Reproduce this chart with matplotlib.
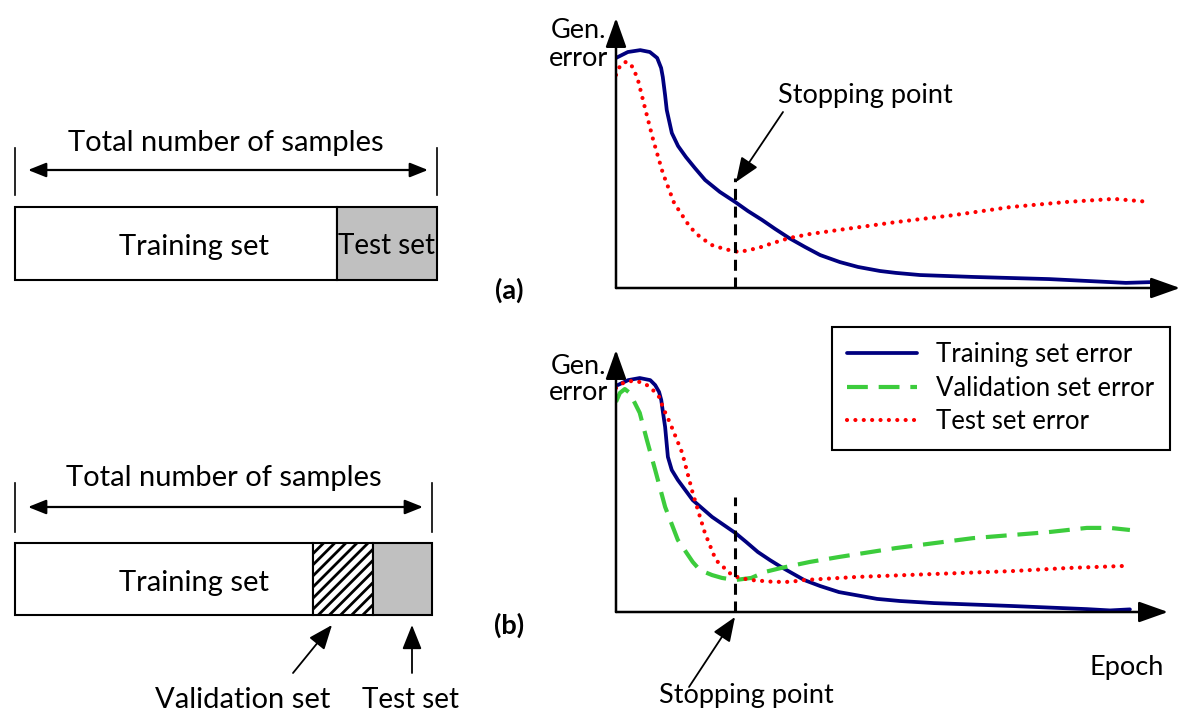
import matplotlib.pyplot as plt
import matplotlib as mpl

plt.rcParams['font.family'] = ['Lato', 'DejaVu Sans']
mpl.rcParams['hatch.linewidth'] = 2.0

# --- sample split (fractions of total samples)
split_a_labels = ["Training set", "Test set"]
split_a_frac = [0.763, 0.237]
split_b_labels = ["Training set", "Validation set", "Test set"]
split_b_frac = [0.715, 0.144, 0.141]

# --- panel (a) curves: epoch vs generalisation error
train_a_x = [0, 2.1, 4.3, 6.0, 7.3, 8.0, 8.3, 8.7, 9.0, 9.9, 11.0, 12.4, 14.0, 15.8, 18.4, 21.1,
             23.4, 25.9, 28.2, 30.7, 33.5, 36.2, 39.7, 42.9, 46.8, 49.6, 53.9, 63.3, 76.8,
             90.4, 95.2]
train_a_y = [85.2, 87.4, 88.1, 87.4, 85.2, 81.5, 78.1, 71.5, 65.9, 57.4, 52.6, 48.5, 44.4, 40.0,
             35.6, 31.9, 28.5, 25.2, 21.9, 18.5, 15.2, 12.2, 9.6, 7.8, 6.3, 5.6, 4.8, 4.1, 3.3,
             1.9, 2.2]
test_a_x = [0, 0.7, 1.6, 2.5, 3.2, 3.9, 5.1, 6.6, 8.3, 10.3, 13.1, 14.9, 17.0, 19.3, 21.8,
            25.2, 27.3, 30.7, 34.4, 39.5, 49.6, 59.9, 70.0, 80.1, 88.3, 94.5]
test_a_y = [78.9, 82.2, 83.7, 83.3, 80.7, 77.0, 67.0, 54.8, 42.6, 31.5, 22.6, 18.9, 15.9, 14.4,
            13.3, 14.8, 16.3, 18.5, 20.0, 21.5, 24.4, 27.0, 30.0, 31.9, 33.0, 31.9]
stop_a = 21.1

# --- panel (b) curves
train_b_x = [0, 2.2, 4.3, 6.2, 7.1, 7.8, 8.2, 8.5, 8.9, 9.4, 10.1, 11.2, 13.9, 17.4, 21.6,
             23.6, 25.7, 27.9, 29.9, 34.1, 37.0, 40.4, 47.3, 51.4, 57.6, 71.6, 85.3, 89.5, 93.1]
train_b_y = [86.3, 88.5, 89.3, 88.5, 86.6, 84.0, 80.9, 76.3, 70.6, 59.2, 54.2, 50.4, 42.7, 36.3,
             30.2, 26.7, 22.9, 19.8, 17.2, 12.2, 9.9, 7.6, 5.0, 4.2, 3.4, 2.3, 1.1, 0.6, 1.0]
valid_b_x = [0, 0.7, 1.6, 2.5, 3.4, 4.3, 5.6, 7.1, 8.9, 11.2, 13.9, 15.2, 17.4, 19.2, 21.6,
             24.5, 27.0, 29.9, 35.1, 40.4, 50.7, 64.7, 78.4, 85.3, 89.5, 93.1]
valid_b_y = [80.2, 83.6, 85.1, 83.6, 79.8, 76.0, 65.6, 54.2, 40.1, 27.5, 19.1, 16.0, 14.1, 13.0,
             12.2, 13.0, 15.3, 16.8, 19.1, 21.0, 24.4, 28.2, 30.5, 32.1, 32.1, 31.3]
test_b_x = [0, 1.3, 2.9, 4.3, 5.6, 6.7, 7.8, 8.7, 9.8, 10.9, 12.0, 13.9, 16.1, 18.1, 21.0,
            22.5, 24.5, 28.6, 31.5, 34.1, 43.8, 57.6, 71.6, 81.9, 92.4]
test_b_y = [85.5, 87.4, 88.2, 87.8, 86.6, 84.7, 82.1, 77.1, 72.1, 66.4, 60.7, 45.4, 30.2, 19.8,
            14.1, 13.0, 12.2, 11.5, 11.5, 12.2, 13.4, 14.5, 15.6, 16.8, 17.6]
stop_b = 21.6

W, H = 1189, 716
NAVY = '#00007f'
GREEN = '#3ccc3c'
RED = '#ff0000'
GRAY = '#c0c0c0'
FS_L = 21      # left-hand diagrams
FS_R = 19.5    # error plots
FS_LEG = 18.5

fig = plt.figure(figsize=(W / 100, H / 100), dpi=100)


def fig_axes(x0, y0, x1, y1):
    # pixel box (top-left origin) -> figure axes
    return fig.add_axes([x0 / W, 1 - y1 / H, (x1 - x0) / W, (y1 - y0) / H])


# overlay in pixel coordinates for labels and annotations
ov = fig.add_axes([0, 0, 1, 1])
ov.set_xlim(0, W)
ov.set_ylim(H, 0)
ov.axis('off')
ov.set_zorder(10)


def split_bar(box, labels, fracs, styles):
    ax = fig_axes(*box)
    left = 0
    for lab, f, st in zip(labels, fracs, styles):
        ax.barh(0, f, left=left, height=1, edgecolor='black', linewidth=1.5,
                clip_on=False, **st)
        left += f
    ax.set_xlim(0, 1)
    ax.set_ylim(-0.5, 0.5)
    ax.axis('off')
    return ax


split_bar((15, 207, 437, 280), split_a_labels, split_a_frac,
          [dict(color='white'), dict(color=GRAY)])
split_bar((15, 543, 432, 615), split_b_labels, split_b_frac,
          [dict(color='white'), dict(color='white', hatch='///'), dict(color=GRAY)])


def double_arrow(x0, x1, y, tick_top, tick_bot):
    ov.annotate('', xy=(x1, y), xytext=(x0, y),
                arrowprops=dict(arrowstyle='<|-|>,head_length=0.55,head_width=0.22',
                                mutation_scale=20, color='black', lw=1.6,
                                shrinkA=0, shrinkB=0))
    for xx in (x0 - 13, x1 + 9):
        ov.plot([xx, xx], [tick_top, tick_bot], color='black', lw=1.2)


double_arrow(28, 428, 170, 148, 195)
double_arrow(28, 423, 507, 483, 532)
ov.text(226, 143, "Total number of samples", fontsize=FS_L, ha='center', va='center')
ov.text(224, 478, "Total number of samples", fontsize=FS_L, ha='center', va='center')
ov.text(194, 247, "Training set", fontsize=FS_L, ha='center', va='center')
ov.text(387, 246, "Test set", fontsize=FS_L - 1, ha='center', va='center')
ov.text(194, 583, "Training set", fontsize=FS_L, ha='center', va='center')
ov.text(243, 700, "Validation set", fontsize=FS_L, ha='center', va='center')
ov.text(410, 700, "Test set", fontsize=FS_L - 1, ha='center', va='center')

small_arrow = dict(arrowstyle='-|>,head_length=0.75,head_width=0.3', mutation_scale=20,
                   color='black', lw=1.3, shrinkA=0, shrinkB=0)
ov.annotate('', xy=(332, 625), xytext=(293, 673), arrowprops=small_arrow)
ov.annotate('', xy=(412, 625), xytext=(412, 673), arrowprops=small_arrow)


def error_axes(box, label_xy, tag, tag_xy):
    ax = fig_axes(*box)
    ax.set_xlim(0, 100)
    ax.set_ylim(0, 100)
    ax.axis('off')
    head = dict(arrowstyle='-|>,head_length=0.9,head_width=0.32', mutation_scale=20,
                color='black', lw=1.8, shrinkA=0, shrinkB=0)
    ax.annotate('', xy=(0, 1), xytext=(0, 0), xycoords='axes fraction', arrowprops=head)
    ax.annotate('', xy=(1, 0), xytext=(0, 0), xycoords='axes fraction', arrowprops=head)
    ov.text(label_xy[0], label_xy[1], "Gen.", fontsize=FS_R, ha='center', va='center')
    ov.text(label_xy[0], label_xy[1] + 27, "error", fontsize=FS_R, ha='center', va='center')
    ov.text(tag_xy[0], tag_xy[1], tag, fontsize=FS_R, fontweight='bold', ha='center', va='center')
    return ax


dotted = dict(color=RED, lw=3.0, linestyle=(0, (0.01, 2.0)), dash_capstyle='round')
dashed = dict(color=GREEN, lw=3.0, linestyle=(0, (5.0, 2.6)))
solid = dict(color=NAVY, lw=2.7, solid_joinstyle='round', solid_capstyle='round')
stop_style = dict(color='black', lw=2.2, linestyle=(0, (3.6, 2.2)))

ax_a = error_axes((616, 18, 1180, 288), (579, 31), "(a)", (509, 290))
ax_a.plot(train_a_x, train_a_y, **solid)
ax_a.plot(test_a_x, test_a_y, **dotted)
ax_a.plot([stop_a, stop_a], [0, 40.7], **stop_style)
ov.text(865, 95, "Stopping point", fontsize=FS_R, ha='center', va='center')
ov.annotate('', xy=(736, 182), xytext=(783, 112), arrowprops=small_arrow)

ax_b = error_axes((616, 350, 1168, 612), (579, 366), "(b)", (509, 625))
l1, = ax_b.plot(train_b_x, train_b_y, **solid)
l2, = ax_b.plot(valid_b_x, valid_b_y, **dashed)
l3, = ax_b.plot(test_b_x, test_b_y, **dotted)
ax_b.plot([stop_b, stop_b], [0, 43.9], **stop_style)
ov.text(746, 695, "Stopping point", fontsize=FS_R, ha='center', va='center')
ov.annotate('', xy=(735, 617), xytext=(689, 687), arrowprops=small_arrow)
ov.text(1127, 668, "Epoch", fontsize=FS_R, ha='center', va='center')

leg = ax_b.legend([l1, l2, l3], ["Training set error", "Validation set error", "Test set error"],
                  loc='upper left', bbox_to_anchor=(832 / W, 1 - 327 / H),
                  bbox_transform=fig.transFigure, borderaxespad=0, fontsize=FS_LEG,
                  fancybox=False, edgecolor='black', framealpha=1, handlelength=2.7,
                  handletextpad=0.75, labelspacing=0.33, borderpad=0.6)
leg.get_frame().set_linewidth(1.5)

fig.savefig('out.png', dpi=100)
